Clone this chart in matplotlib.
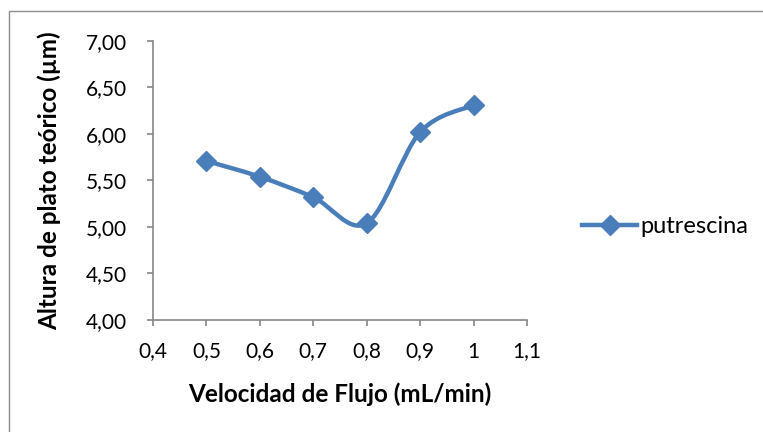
import matplotlib
matplotlib.use("Agg")
import matplotlib.pyplot as plt
from matplotlib.path import Path
from matplotlib.patches import PathPatch, Rectangle
from matplotlib.lines import Line2D
import numpy as np

flow = [0.5, 0.6, 0.7, 0.8, 0.9, 1.0]
height = [5.71, 5.54, 5.32, 5.04, 6.02, 6.31]
series_name = "putrescina"
xticks = [0.4, 0.5, 0.6, 0.7, 0.8, 0.9, 1.0, 1.1]
xticklabels = ["0,4", "0,5", "0,6", "0,7", "0,8", "0,9", "1", "1,1"]
yticks = [4.0, 4.5, 5.0, 5.5, 6.0, 6.5, 7.0]
yticklabels = ["4,00", "4,50", "5,00", "5,50", "6,00", "6,50", "7,00"]

plt.rcParams['font.family'] = ['Lato', 'DejaVu Sans']
color = "#4A7EBB"
axcol = "#868686"

fig = plt.figure(figsize=(7.63, 4.32), dpi=100)
fig.patches.append(Rectangle((9/763, -0.1), 2, 1 - 11/432 + 0.1, transform=fig.transFigure,
                             fill=False, edgecolor="#8c8c8c", linewidth=1.0))
ax = fig.add_axes([153/763, 1 - 320/432, (527 - 153)/763, (320 - 41)/432])

# Excel-like smoothed line (Bezier through points)
P = np.column_stack([flow, height])
verts = [tuple(P[0])]
codes = [Path.MOVETO]
n = len(P)
for i in range(n - 1):
    p0 = P[i - 1] if i > 0 else P[i]
    p1 = P[i]
    p2 = P[i + 1]
    p3 = P[i + 2] if i + 2 < n else P[i + 1]
    c1 = p1 + (p2 - p0) / 6.0
    c2 = p2 - (p3 - p1) / 6.0
    verts += [tuple(c1), tuple(c2), tuple(p2)]
    codes += [Path.CURVE4] * 3
ax.add_patch(PathPatch(Path(verts, codes), fill=False, edgecolor=color, linewidth=3.2,
                       capstyle='round', joinstyle='round', zorder=2))
ax.plot(flow, height, linestyle='none', marker='D', markersize=10, color=color,
        markeredgecolor=color, zorder=3)

ax.set_xlim(0.4, 1.1)
ax.set_ylim(4.0, 7.0)
ax.set_xticks(xticks)
ax.set_xticklabels(xticklabels)
ax.set_yticks(yticks)
ax.set_yticklabels(yticklabels)
for s in ['top', 'right']:
    ax.spines[s].set_visible(False)
for s in ['left', 'bottom']:
    ax.spines[s].set_color(axcol)
    ax.spines[s].set_linewidth(1.2)
ax.tick_params(axis='both', direction='out', length=4.5, width=1.2, color=axcol,
               labelsize=15, labelcolor='black')
ax.tick_params(axis='x', pad=11)
ax.tick_params(axis='y', pad=14)

ax.set_xlabel("Velocidad de Flujo (mL/min)", fontsize=17.5, fontweight='bold', va='center')
ax.xaxis.set_label_coords(0.5, (320 - 394) / 279)
ax.set_ylabel("Altura de plato teórico (µm)", fontsize=17.5, fontweight='bold', va='center')
ax.yaxis.set_label_coords((49 - 153) / 374, 0.5)

handle = Line2D([], [], color=color, linewidth=3.2, marker='D', markersize=10)
fig.legend([handle], [series_name], loc='center left', bbox_to_anchor=(582/763, 1 - 227/432),
           frameon=False, fontsize=17, handlelength=2.33, handletextpad=0.15, borderpad=0,
           borderaxespad=0)

fig.savefig("out.png", dpi=100)
